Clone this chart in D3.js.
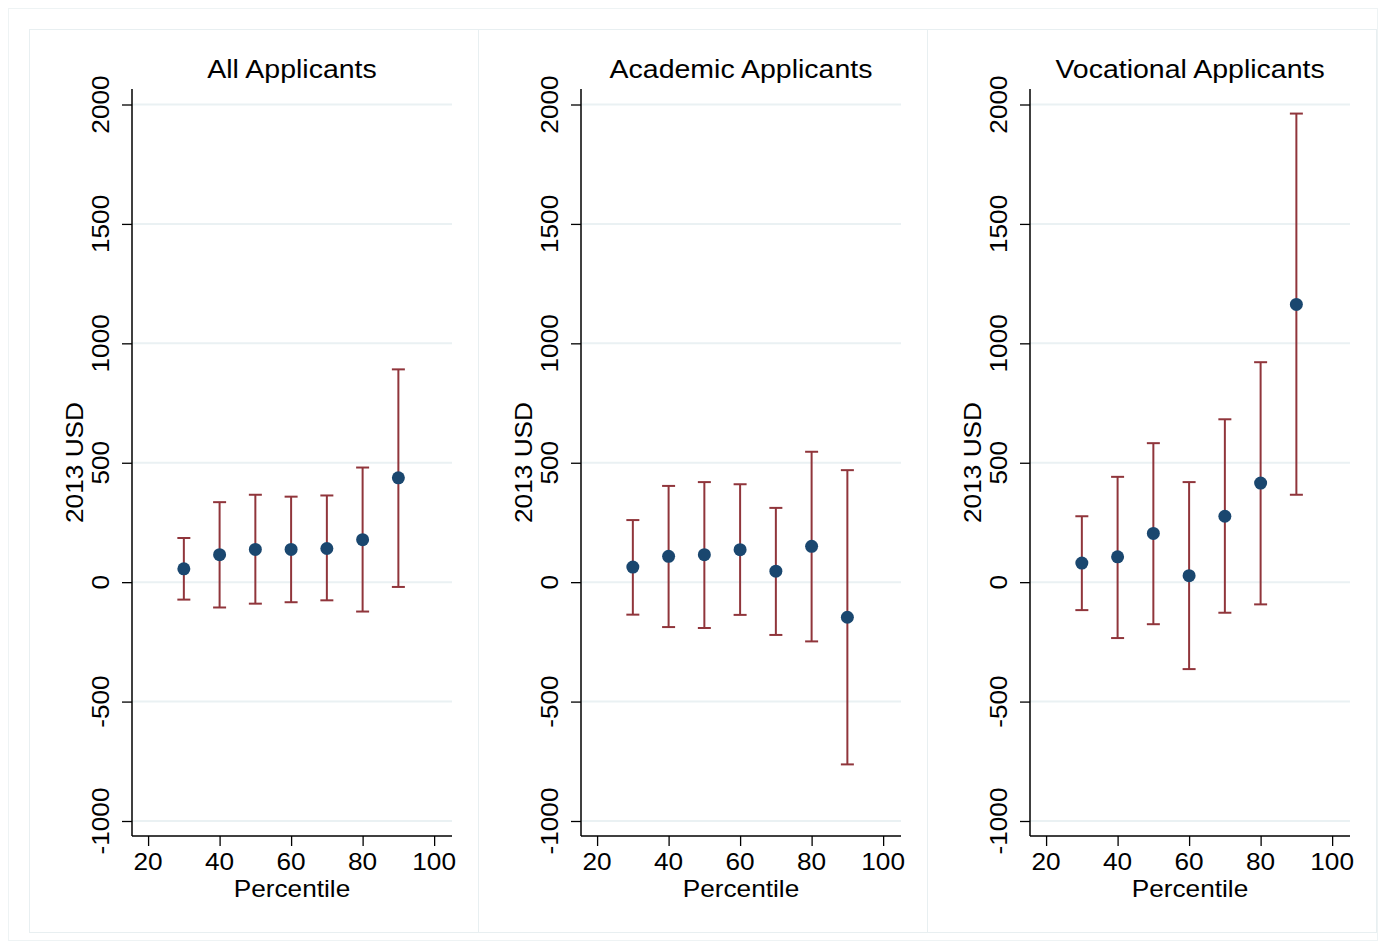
<!DOCTYPE html>
<html>
<head>
<meta charset="utf-8">
<script src="https://cdn.jsdelivr.net/npm/d3@7"></script>
<style>
  body { margin: 0; background: #fff; }
  text { font-family: "Liberation Sans", Arial, sans-serif; fill: #000; }
</style>
</head>
<body>
<svg width="1378" height="948"></svg>
<script>
var percentiles = [30, 40, 50, 60, 70, 80, 90];
var panelTitles = ["All Applicants", "Academic Applicants", "Vocational Applicants"];

var allEst = [56, 115, 137, 137, 141, 178, 437];
var allLo = [-73, -106, -90, -84, -76, -123, -20];
var allHi = [185, 335, 366, 358, 363, 480, 891];

var acadEst = [63, 108, 115, 136, 46, 150, -147];
var acadLo = [-136, -188, -192, -137, -221, -248, -763];
var acadHi = [260, 403, 419, 410, 311, 546, 469];

var vocEst = [80, 106, 204, 27, 276, 415, 1163];
var vocLo = [-117, -234, -176, -364, -128, -93, 366];
var vocHi = [276, 441, 582, 419, 682, 921, 1962];

var xTicks = [20, 40, 60, 80, 100];
var yTicks = [-1000, -500, 0, 500, 1000, 1500, 2000];

var panels = [
  {title: panelTitles[0], est: allEst, lo: allLo, hi: allHi},
  {title: panelTitles[1], est: acadEst, lo: acadLo, hi: acadHi},
  {title: panelTitles[2], est: vocEst, lo: vocLo, hi: vocHi}
];

var svg = d3.select("svg");
var navy = "#1a476f", maroon = "#90353b", grid = "#eaf1f3";
var stretch = " scale(1.14,1)";

svg.append("rect")
  .attr("x", 8.5).attr("y", 8.5).attr("width", 1369).attr("height", 932)
  .style("fill", "none").style("stroke", "#eef3f4");

panels.forEach(function(p, i){
  var ox = 29 + i * 449;
  var g = svg.append("g").attr("transform", "translate(" + ox + ",0)");

  g.append("rect")
    .attr("x", 0.5).attr("y", 29.5).attr("width", 449).attr("height", 903)
    .style("fill", "none").style("stroke", "#e8eff1");

  var x = d3.scaleLinear().domain([15.5, 105]).range([103, 423]);
  var y = d3.scaleLinear().domain([-1000, 2000]).range([821, 104.5]);
  var yTop = 89, yBot = 836;

  // gridlines
  g.selectAll("line.grid").data(yTicks).enter().append("line")
    .attr("class", "grid")
    .attr("x1", 103).attr("x2", 423)
    .attr("y1", function(d){ return y(d); })
    .attr("y2", function(d){ return y(d); })
    .style("stroke", grid).style("stroke-width", 2);

  // y axis
  var yAxis = d3.axisLeft(y).tickValues(yTicks).tickSize(10).tickFormat("");
  var ya = g.append("g").attr("transform", "translate(103,0)").call(yAxis);
  ya.select(".domain").remove();
  ya.selectAll(".tick line").style("stroke", "#000").style("stroke-width", 1.3);
  g.append("line").attr("x1", 103).attr("x2", 103).attr("y1", yTop).attr("y2", yBot)
    .style("stroke", "#000").style("stroke-width", 1.5);

  g.selectAll("text.ytick").data(yTicks).enter().append("text")
    .attr("class", "ytick")
    .attr("transform", function(d){ return "translate(80," + y(d) + ") rotate(-90)" + stretch; })
    .attr("text-anchor", "middle")
    .style("font-size", "23px")
    .text(function(d){ return d; });

  // x axis
  var xAxis = d3.axisBottom(x).tickValues(xTicks).tickSize(10).tickFormat("");
  var xa = g.append("g").attr("transform", "translate(0," + yBot + ")").call(xAxis);
  xa.select(".domain").remove();
  xa.selectAll(".tick line").style("stroke", "#000").style("stroke-width", 1.3);
  g.append("line").attr("x1", 103).attr("x2", 423).attr("y1", yBot).attr("y2", yBot)
    .style("stroke", "#000").style("stroke-width", 1.5);

  g.selectAll("text.xtick").data(xTicks).enter().append("text")
    .attr("class", "xtick")
    .attr("transform", function(d){ return "translate(" + x(d) + ",870)" + stretch; })
    .attr("text-anchor", "middle")
    .style("font-size", "23px")
    .text(function(d){ return d; });

  g.append("text")
    .attr("transform", "translate(263,897)" + stretch)
    .attr("text-anchor", "middle")
    .style("font-size", "23px")
    .text("Percentile");

  g.append("text")
    .attr("transform", "translate(54," + ((yTop + yBot) / 2) + ") rotate(-90)" + stretch)
    .attr("text-anchor", "middle")
    .style("font-size", "23px")
    .text("2013 USD");

  g.append("text")
    .attr("transform", "translate(263,78)" + stretch)
    .attr("text-anchor", "middle")
    .style("font-size", "25px")
    .text(p.title);

  var rows = percentiles.map(function(d, k){
    return {x: d, est: p.est[k], lo: p.lo[k], hi: p.hi[k]};
  });

  var cap = 6.5;
  var bars = g.selectAll("g.bar").data(rows).enter().append("g").attr("class", "bar");
  bars.append("line")
    .attr("x1", function(d){ return x(d.x); }).attr("x2", function(d){ return x(d.x); })
    .attr("y1", function(d){ return y(d.lo); }).attr("y2", function(d){ return y(d.hi); })
    .style("stroke", maroon).style("stroke-width", 2);
  bars.append("line")
    .attr("x1", function(d){ return x(d.x) - cap; }).attr("x2", function(d){ return x(d.x) + cap; })
    .attr("y1", function(d){ return y(d.hi); }).attr("y2", function(d){ return y(d.hi); })
    .style("stroke", maroon).style("stroke-width", 2);
  bars.append("line")
    .attr("x1", function(d){ return x(d.x) - cap; }).attr("x2", function(d){ return x(d.x) + cap; })
    .attr("y1", function(d){ return y(d.lo); }).attr("y2", function(d){ return y(d.lo); })
    .style("stroke", maroon).style("stroke-width", 2);

  g.selectAll("circle").data(rows).enter().append("circle")
    .attr("cx", function(d){ return x(d.x); })
    .attr("cy", function(d){ return y(d.est); })
    .attr("r", 6.5)
    .style("fill", navy);
});
</script>
</body>
</html>
